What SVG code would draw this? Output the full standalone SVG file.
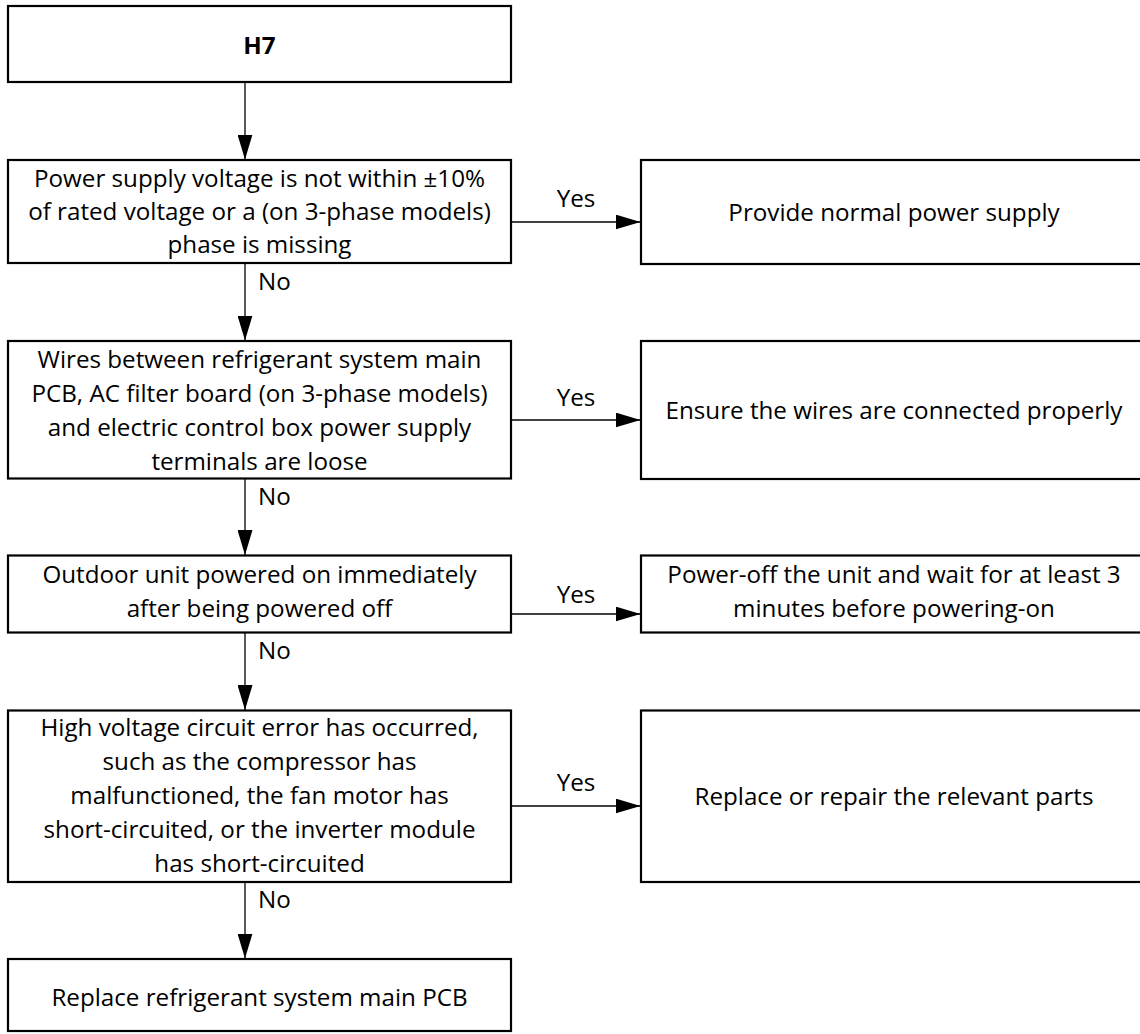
<svg xmlns="http://www.w3.org/2000/svg" width="1140" height="1034" viewBox="0 0 1140 1034">
<style>
.box{fill:#fff;stroke:#000;stroke-width:2.2}
.t{font-family:"Open Sans","Liberation Sans",sans-serif;font-size:23px;fill:#000;text-anchor:middle}
.lbl{font-family:"Open Sans","Liberation Sans",sans-serif;font-size:23px;fill:#000}
.b{font-weight:bold}
.c{fill:none;stroke:#000;stroke-width:1.3}
</style>
<defs>
<marker id="ah" markerUnits="userSpaceOnUse" markerWidth="25" markerHeight="15" viewBox="0 0 25 15" refX="25" refY="7.5" orient="auto">
<path d="M0,0 L25,7.5 L0,15 z" fill="#000"/>
</marker>
</defs>
<rect width="1140" height="1034" fill="#fff"/>
<g id="connectors">
<line class="c" x1="245" y1="83" x2="245" y2="159.5" marker-end="url(#ah)"/>
<line class="c" x1="245" y1="264" x2="245" y2="340.5" marker-end="url(#ah)"/>
<line class="c" x1="245" y1="479" x2="245" y2="555" marker-end="url(#ah)"/>
<line class="c" x1="245" y1="633" x2="245" y2="710" marker-end="url(#ah)"/>
<line class="c" x1="245" y1="882.5" x2="245" y2="958.5" marker-end="url(#ah)"/>
<line class="c" x1="512" y1="222" x2="640.5" y2="222" marker-end="url(#ah)"/>
<line class="c" x1="512" y1="420" x2="640.5" y2="420" marker-end="url(#ah)"/>
<line class="c" x1="512" y1="614" x2="640.5" y2="614" marker-end="url(#ah)"/>
<line class="c" x1="512" y1="806" x2="640.5" y2="806" marker-end="url(#ah)"/>
<text class="t" transform="matrix(1.052 0 0 1 576 0)" x="0" y="207">Yes</text>
<text class="t" transform="matrix(1.052 0 0 1 576 0)" x="0" y="406">Yes</text>
<text class="t" transform="matrix(1.052 0 0 1 576 0)" x="0" y="603">Yes</text>
<text class="t" transform="matrix(1.052 0 0 1 576 0)" x="0" y="791">Yes</text>
<text class="lbl" transform="matrix(1.052 0 0 1 258 0)" x="0" y="290">No</text>
<text class="lbl" transform="matrix(1.052 0 0 1 258 0)" x="0" y="505">No</text>
<text class="lbl" transform="matrix(1.052 0 0 1 258 0)" x="0" y="659">No</text>
<text class="lbl" transform="matrix(1.052 0 0 1 258 0)" x="0" y="908">No</text>
</g>
<g id="n1">
<rect class="box" x="8" y="6" width="503" height="76"/>
<text class="t b" transform="matrix(1.052 0 0 1 259.5 0)" x="0" y="54">H7</text>
</g>
<g id="n2">
<rect class="box" x="8" y="160" width="503" height="103"/>
<text class="t" transform="matrix(1.052 0 0 1 259.5 0)"><tspan x="0" y="187">Power supply voltage is not within ±10%</tspan><tspan x="0" y="220">of rated voltage or a (on 3-phase models)</tspan><tspan x="0" y="253">phase is missing</tspan></text>
</g>
<g id="n3">
<rect class="box" x="8" y="341" width="503" height="137.5"/>
<text class="t" transform="matrix(1.052 0 0 1 259.5 0)"><tspan x="0" y="368">Wires between refrigerant system main</tspan><tspan x="0" y="402">PCB, AC filter board (on 3-phase models)</tspan><tspan x="0" y="436">and electric control box power supply</tspan><tspan x="0" y="470">terminals are loose</tspan></text>
</g>
<g id="n4">
<rect class="box" x="8" y="555.5" width="503" height="77"/>
<text class="t" transform="matrix(1.052 0 0 1 259.5 0)"><tspan x="0" y="583">Outdoor unit powered on immediately</tspan><tspan x="0" y="617">after being powered off</tspan></text>
</g>
<g id="n5">
<rect class="box" x="8" y="710.5" width="503" height="171.5"/>
<text class="t" transform="matrix(1.052 0 0 1 259.5 0)"><tspan x="0" y="736">High voltage circuit error has occurred,</tspan><tspan x="0" y="770">such as the compressor has</tspan><tspan x="0" y="804">malfunctioned, the fan motor has</tspan><tspan x="0" y="838">short-circuited, or the inverter module</tspan><tspan x="0" y="872">has short-circuited</tspan></text>
</g>
<g id="n6">
<rect class="box" x="8" y="959" width="503" height="72"/>
<text class="t" transform="matrix(1.052 0 0 1 259.5 0)" x="0" y="1006">Replace refrigerant system main PCB</text>
</g>
<g id="r1">
<rect class="box" x="641" y="160" width="506" height="104"/>
<text class="t" transform="matrix(1.052 0 0 1 894 0)" x="0" y="221">Provide normal power supply</text>
</g>
<g id="r2">
<rect class="box" x="641" y="341" width="506" height="138"/>
<text class="t" transform="matrix(1.052 0 0 1 894 0)" x="0" y="419">Ensure the wires are connected properly</text>
</g>
<g id="r3">
<rect class="box" x="641" y="555.5" width="506" height="77"/>
<text class="t" transform="matrix(1.052 0 0 1 894 0)"><tspan x="0" y="583">Power-off the unit and wait for at least 3</tspan><tspan x="0" y="617">minutes before powering-on</tspan></text>
</g>
<g id="r4">
<rect class="box" x="641" y="710.5" width="506" height="171.5"/>
<text class="t" transform="matrix(1.052 0 0 1 894 0)" x="0" y="805">Replace or repair the relevant parts</text>
</g>
</svg>
